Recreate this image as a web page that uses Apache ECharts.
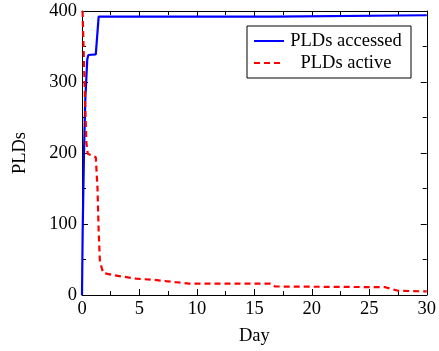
<!DOCTYPE html>
<html><head><meta charset="utf-8">
<script src="https://cdn.jsdelivr.net/npm/echarts@6/dist/echarts.min.js"></script>
<style>html,body{margin:0;padding:0;background:#fff}#c{width:439px;height:351px}</style>
</head><body><div id="c"></div>
<script>
const accessedDays = [0, 0.06, 0.17, 0.29, 0.46, 0.55, 1.2, 1.45, 16.7, 16.8, 30];
const accessedVals = [0, 92, 197, 277, 332, 338, 339, 392, 392, 394, 394];
const activeDays = [0.05, 0.26, 0.38, 0.5, 0.8, 1.2, 1.35, 1.45, 1.56, 1.84, 2.7, 3.7, 4.7, 6.5, 7.3, 8.2, 9.3, 11.6, 16.4, 16.8, 26.4, 27.5, 30];
const activeVals = [400, 277, 215, 199, 197, 194, 150, 90, 47, 31, 28, 25.5, 23, 21, 19.5, 18, 16, 16, 16, 12, 11, 6, 5];
const xTicks = [0, 5, 10, 15, 20, 25, 30];
const yTicks = [0, 100, 200, 300, 400];
const seriesNames = ['PLDs accessed', 'PLDs active'];

const font = 'Liberation Serif';
const fs = 18.5;
const zip = (a, b) => a.map((v, i) => [v, b[i]]);
const tickCommon = {inside: true, length: 6, lineStyle: {color: '#000', width: 1}};
const minorCommon = {show: true, splitNumber: 2, length: 4, lineStyle: {color: '#000', width: 1}};
const axisLine = {show: true, onZero: false, lineStyle: {color: '#000', width: 1}};
const labelStyle = {color: '#000', fontFamily: font, fontSize: fs};

const chart = echarts.init(document.getElementById('c'), null, {renderer: 'canvas'});
chart.setOption({
  animation: false,
  backgroundColor: '#fff',
  grid: {left: 82, right: 10, top: 11, bottom: 51.5},
  legend: {
    orient: 'vertical', left: 247, top: 26,
    data: seriesNames,
    backgroundColor: '#fff', borderColor: '#000', borderWidth: 1,
    padding: [5, 8, 5, 6], itemGap: 2, itemWidth: 30, itemHeight: 14,
    itemStyle: {opacity: 0},
    formatter: n => '{a|' + n + '}',
    textStyle: {color: '#000', fontFamily: font, fontSize: fs, lineHeight: 20,
      rich: {a: {width: 114, align: 'center', fontFamily: font, fontSize: fs, color: '#000'}}}
  },
  xAxis: [{
    type: 'value', min: xTicks[0], max: xTicks[xTicks.length - 1], interval: 5,
    name: 'Day', nameLocation: 'middle', nameGap: 32,
    nameTextStyle: labelStyle,
    axisLine, axisTick: tickCommon, minorTick: minorCommon,
    splitLine: {show: false},
    axisLabel: Object.assign({margin: 5}, labelStyle)
  }, {
    type: 'value', position: 'top', min: 0, max: 30, interval: 5,
    axisLine, axisTick: tickCommon, minorTick: minorCommon,
    splitLine: {show: false}, axisLabel: {show: false}
  }],
  yAxis: [{
    type: 'value', min: yTicks[0], max: yTicks[yTicks.length - 1], interval: 100,
    name: 'PLDs', nameLocation: 'middle', nameGap: 52,
    nameTextStyle: labelStyle,
    axisLine, axisTick: tickCommon, minorTick: minorCommon,
    splitLine: {show: false},
    axisLabel: Object.assign({margin: 5}, labelStyle)
  }, {
    type: 'value', position: 'right', min: 0, max: 400, interval: 100,
    axisLine, axisTick: tickCommon, minorTick: minorCommon,
    splitLine: {show: false}, axisLabel: {show: false}
  }],
  series: [{
    name: seriesNames[0], type: 'line', symbol: 'none',
    data: zip(accessedDays, accessedVals),
    lineStyle: {color: '#0000ff', width: 2.2}, itemStyle: {color: '#0000ff'}
  }, {
    name: seriesNames[1], type: 'line', symbol: 'none',
    data: zip(activeDays, activeVals),
    lineStyle: {color: '#ff0000', width: 2.2, type: [6, 4]}, itemStyle: {color: '#ff0000'}
  }]
});
</script></body></html>
